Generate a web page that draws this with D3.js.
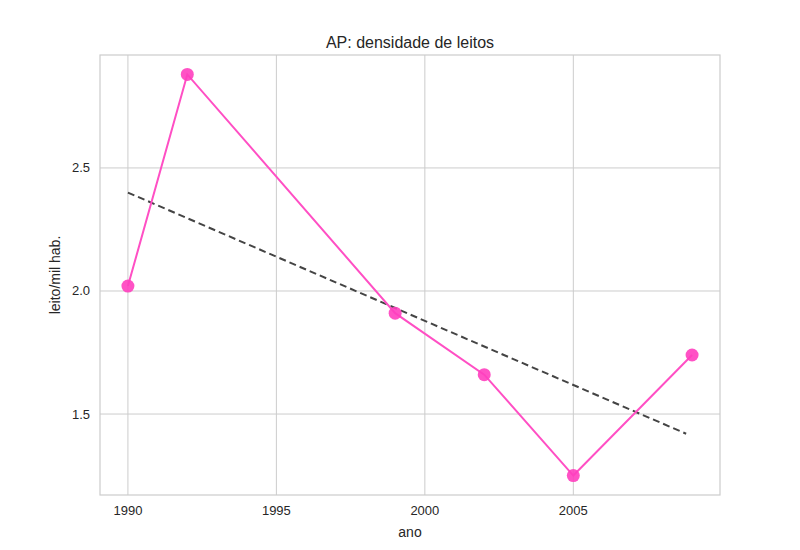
<!DOCTYPE html>
<html>
<head>
<meta charset="utf-8">
<script src="https://cdn.jsdelivr.net/npm/d3@7"></script>
<style>
  body { margin: 0; background: #fff; font-family: "Liberation Sans", Arial, sans-serif; }
</style>
</head>
<body>
<svg id="chart" width="800" height="550"></svg>
<script>
// data
const years = [1990, 1992, 1999, 2002, 2005, 2009];
const beds = [2.02, 2.88, 1.91, 1.66, 1.25, 1.74];
const trendYears = [1990, 2008.8];
const trendBeds = [2.40, 1.42];
const xTicks = [1990, 1995, 2000, 2005];
const yTicks = [1.5, 2.0, 2.5];

const svg = d3.select('#chart');
const plotLeft = 100, plotRight = 720, plotTop = 55, plotBottom = 495;

const x = d3.scaleLinear().domain([1989.06, 2009.94]).range([plotLeft, plotRight]);
const y = d3.scaleLinear().domain([1.171, 2.959]).range([plotBottom, plotTop]);

// grid
svg.append('g').selectAll('line').data(xTicks).enter().append('line')
    .attr('x1', d => x(d)).attr('x2', d => x(d))
    .attr('y1', plotTop).attr('y2', plotBottom)
    .attr('stroke', '#cccccc').attr('stroke-width', 1);
svg.append('g').selectAll('line').data(yTicks).enter().append('line')
    .attr('y1', d => y(d)).attr('y2', d => y(d))
    .attr('x1', plotLeft).attr('x2', plotRight)
    .attr('stroke', '#cccccc').attr('stroke-width', 1);

// frame
svg.append('rect')
    .attr('x', plotLeft).attr('y', plotTop)
    .attr('width', plotRight - plotLeft).attr('height', plotBottom - plotTop)
    .attr('fill', 'none').attr('stroke', '#cccccc').attr('stroke-width', 1.2);

// tick labels
svg.append('g').selectAll('text').data(xTicks).enter().append('text')
    .attr('x', d => x(d)).attr('y', plotBottom + 20)
    .attr('text-anchor', 'middle').attr('font-size', 13).attr('fill', '#262626')
    .text(d => d);
svg.append('g').selectAll('text').data(yTicks).enter().append('text')
    .attr('x', plotLeft - 10).attr('y', d => y(d) + 4.5)
    .attr('text-anchor', 'end').attr('font-size', 13).attr('fill', '#262626')
    .text(d => d.toFixed(1));

// trend line
const line = d3.line().x(d => x(d[0])).y(d => y(d[1]));
svg.append('path')
    .attr('d', line(trendYears.map((t, i) => [t, trendBeds[i]])))
    .attr('fill', 'none').attr('stroke', '#444444')
    .attr('stroke-width', 2).attr('stroke-dasharray', '7,4');

// series
const pts = years.map((t, i) => [t, beds[i]]);
svg.append('path')
    .attr('d', line(pts))
    .attr('fill', 'none').attr('stroke', '#ff4fc4').attr('stroke-width', 2);
svg.append('g').selectAll('circle').data(pts).enter().append('circle')
    .attr('cx', d => x(d[0])).attr('cy', d => y(d[1])).attr('r', 6.5)
    .attr('fill', '#ff3fbf').attr('opacity', 0.9);

// titles
svg.append('text').attr('x', (plotLeft + plotRight) / 2).attr('y', 48)
    .attr('text-anchor', 'middle').attr('font-size', 16).attr('fill', '#262626')
    .text('AP: densidade de leitos');
svg.append('text').attr('x', (plotLeft + plotRight) / 2).attr('y', 537)
    .attr('text-anchor', 'middle').attr('font-size', 14).attr('fill', '#262626')
    .text('ano');
svg.append('text')
    .attr('transform', `translate(60,${(plotTop + plotBottom) / 2}) rotate(-90)`)
    .attr('text-anchor', 'middle').attr('font-size', 14).attr('fill', '#262626')
    .text('leito/mil hab.');
</script>
</body>
</html>
